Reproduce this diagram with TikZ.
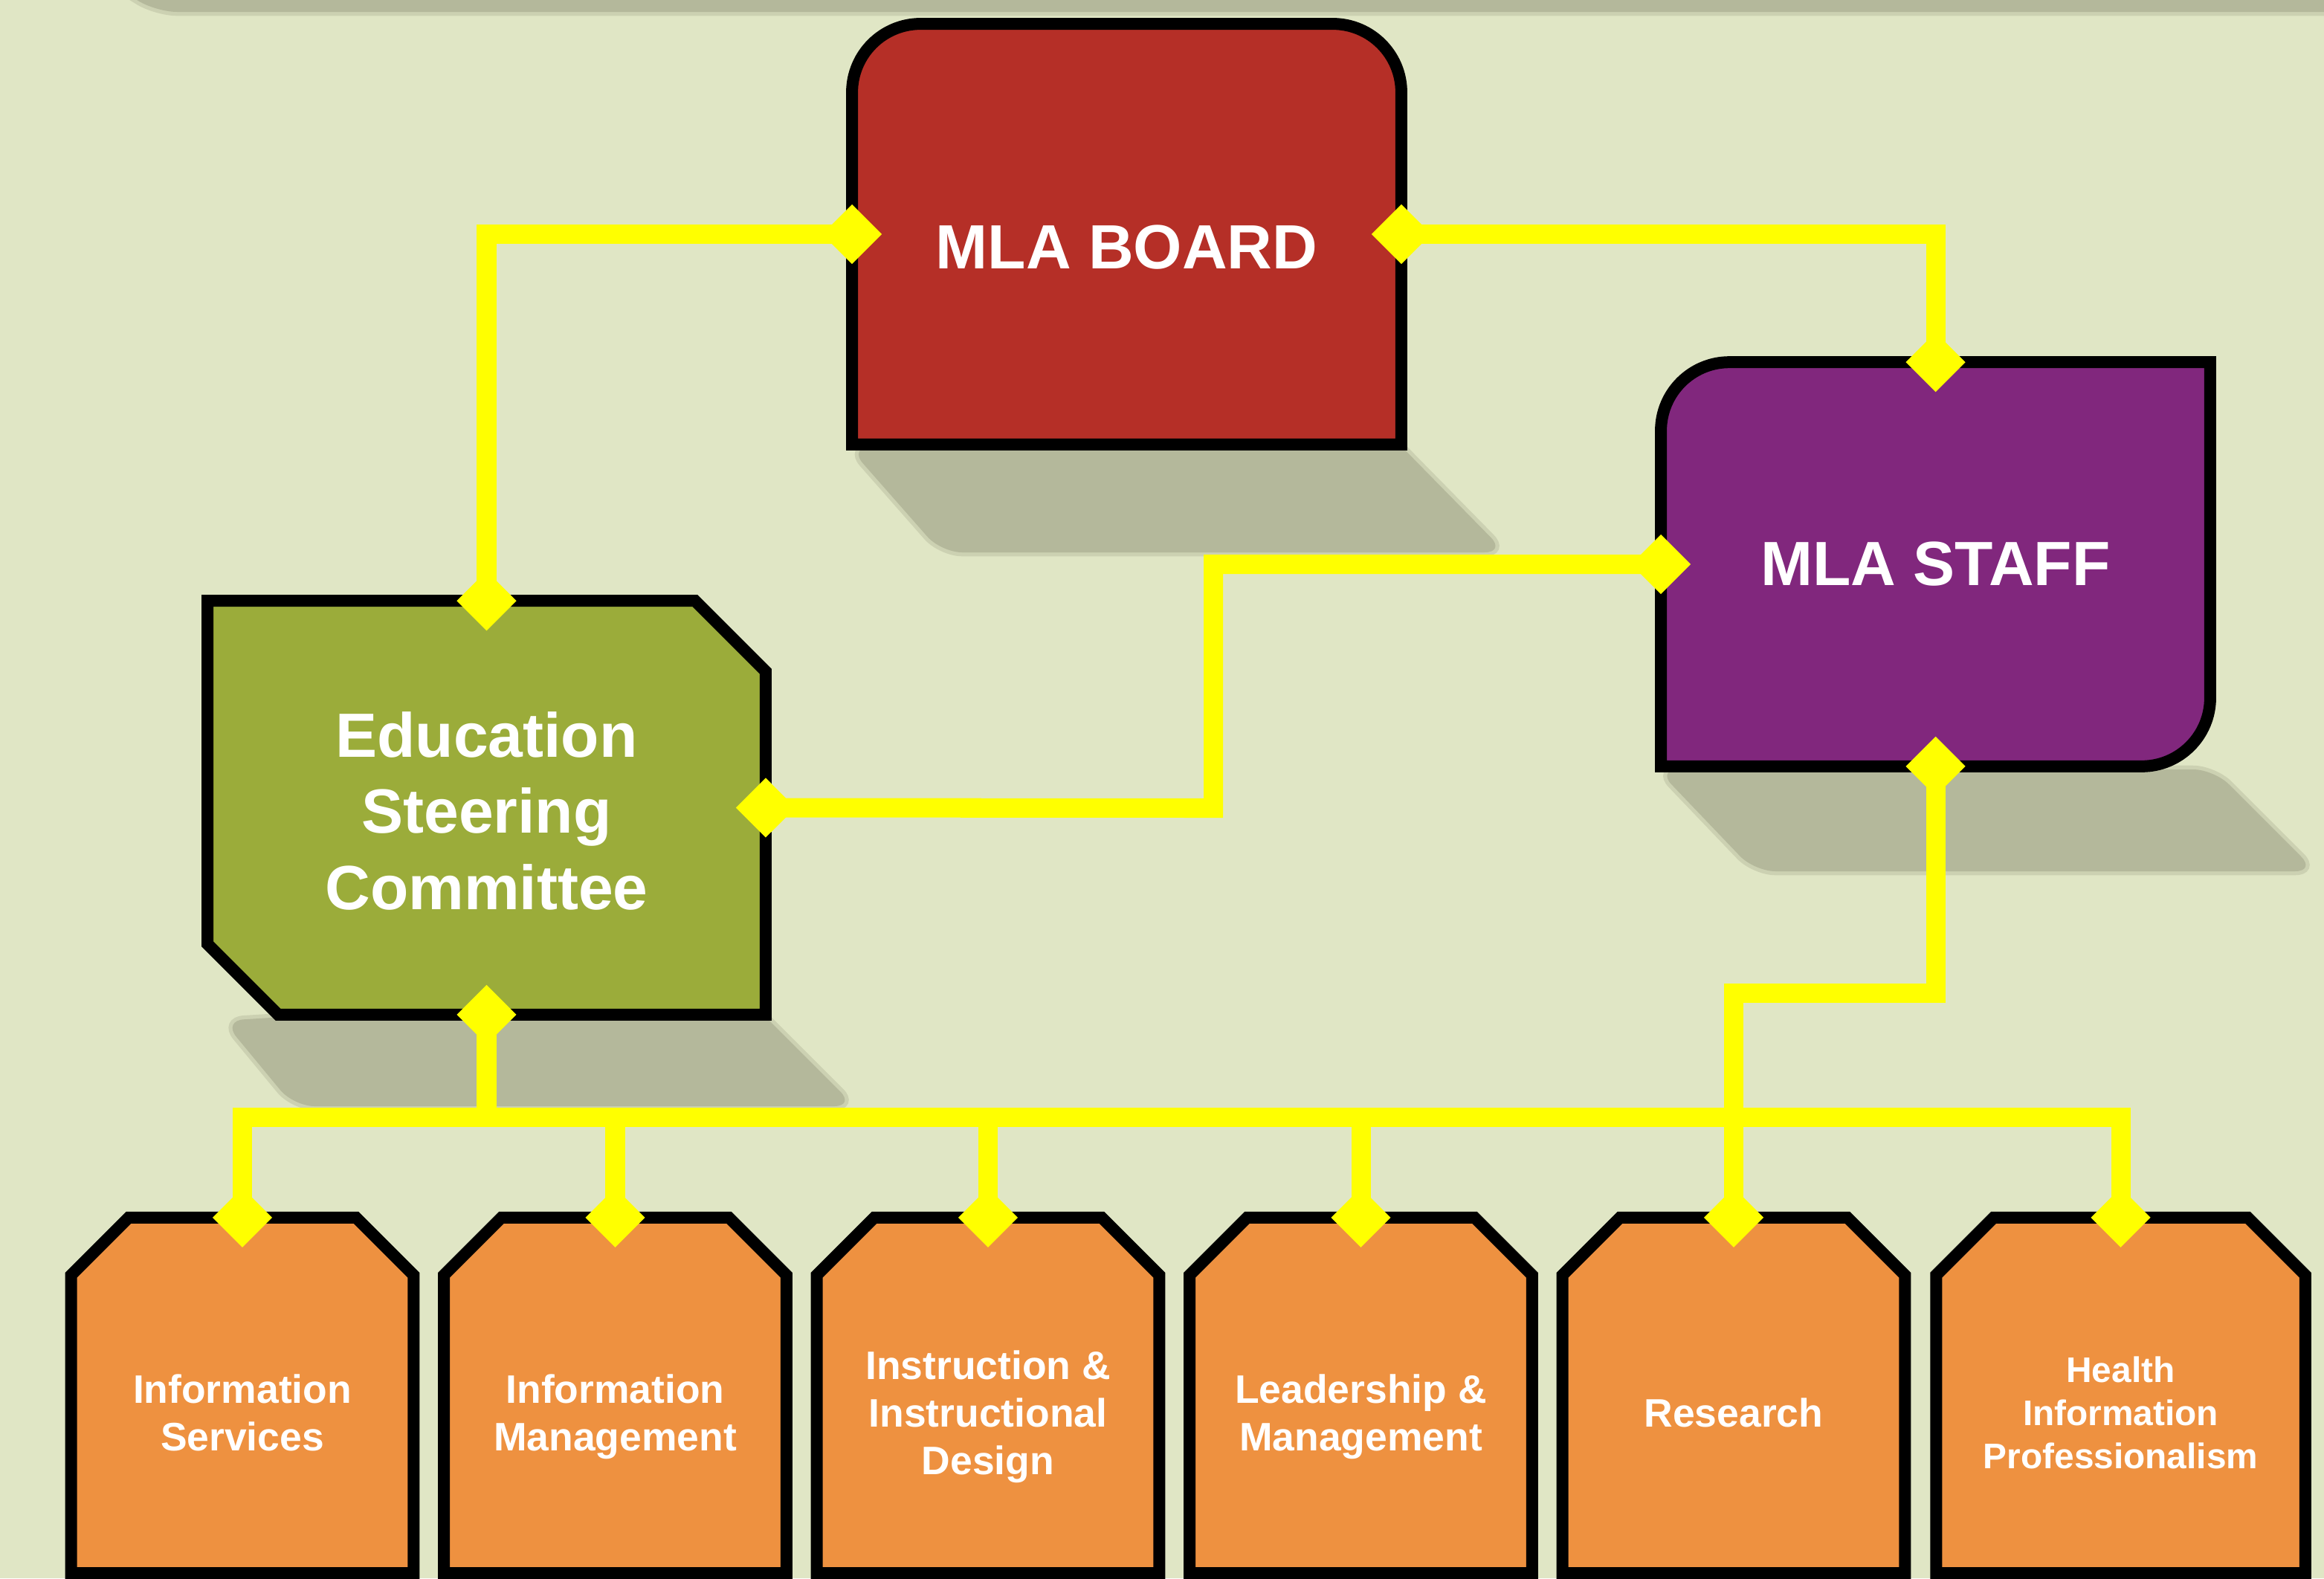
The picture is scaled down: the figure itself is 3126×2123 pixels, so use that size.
\documentclass[tikz,border=0pt]{standalone}
\usepackage{fontspec}
\setmainfont{Liberation Sans}
\usetikzlibrary{arrows.meta,backgrounds}

\definecolor{paper}{HTML}{E0E6C5}
\definecolor{shadowgray}{HTML}{B4B89B}
\definecolor{boardred}{HTML}{B52F27}
\definecolor{staffpurple}{HTML}{81277D}
\definecolor{commgreen}{HTML}{9BAC3A}
\definecolor{sectorange}{HTML}{EE9140}
\definecolor{linkyellow}{HTML}{FFFF00}

\tikzset{
  dia/.tip={Diamond[length=22.8pt,width=22.8pt,line width=0pt]},
  box/.style={inner sep=0pt, text=white, align=center},
  bigbox/.style={box, font=\fontsize{23.9}{29.2}\selectfont\bfseries},
  section/.style={box, minimum width=130.6pt, minimum height=148.7pt, text depth=0pt,
    font=\fontsize{15.2}{18.1}\selectfont\bfseries},
  outline/.style={draw=black, line width=4.55pt, line join=miter},
  castshadow/.style={fill=shadowgray, draw=shadowgray, draw opacity=.45,
    line width=3pt, rounded corners=8pt},
  link/.style={draw=linkyellow, line width=7.4pt, line join=miter},
  bothends/.style={link, dia-dia, shorten <=-11.4pt, shorten >=-11.4pt},
  oneend/.style={link, -dia, shorten >=-11.4pt}
}

\begin{document}
\begin{tikzpicture}[x=0.01cm, y=-0.01cm]
\useasboundingbox (0,0) rectangle (3126,2123);

\node[bigbox, minimum width=209.7pt, minimum height=160.5pt, text height=26.2pt, text depth=0pt] at (1515.5,315) (board) {MLA BOARD};
\node[bigbox, minimum width=209.7pt, minimum height=154.2pt] at (2603.5,759) (staff) {MLA STAFF};
\node[bigbox, minimum width=213.1pt, minimum height=157.9pt, text height=78pt, text depth=0pt] at (654.5,1086.5) (esc) {Education\\Steering\\Committee};

%sections run off the bottom of the page
\node[section] at (326,1900) (isv) {Information\\Services};
\node[section] at (827.5,1900) (ima) {Information\\Management};
\node[section] at (1329,1900) (iid) {Instruction \&\\Instructional\\Design};
\node[section] at (1830.5,1900) (lam) {Leadership \&\\Management};
\node[section] at (2332,1900) (res) {Research};
\node[section, minimum width=140.8pt, font=\fontsize{13.6}{16.5}\selectfont\bfseries] at (2852.5,1900) (hip) {Health\\Information\\Professionalism};

\begin{scope}[on background layer]
\fill[paper] (0,0) rectangle (3126,2123);
%drop shadows
\path[castshadow] (120,-40) -- (3200,-40) -- (3200,16) -- (210,16) -- cycle;
\path[castshadow] (1142,602) -- (1266,743) -- (2025,743) -- (1860,575) -- cycle;
\path[castshadow] (2229,1035) -- (2360,1172) -- (3115,1172) -- (2978,1035) -- cycle;
\path[castshadow] (300,1373) -- (395,1488) -- (1150,1488) -- (992,1330) -- cycle;
%board, round on top
\filldraw[outline, fill=boardred] (board.south west) -- ([yshift=-26.2pt]board.north west)
  arc[start angle=180, end angle=90, radius=26.2pt] -- ([xshift=-26.2pt]board.north east)
  arc[start angle=90, end angle=0, radius=26.2pt] -- (board.south east) -- cycle;
%staff, round top left and bottom right
\filldraw[outline, fill=staffpurple] (staff.north east) -- ([yshift=26.2pt]staff.south east)
  arc[start angle=0, end angle=-90, radius=26.2pt] -- (staff.south west) -- ([yshift=-26.2pt]staff.north west)
  arc[start angle=180, end angle=90, radius=26.2pt] -- cycle;
%committee, cut top right and bottom left
\filldraw[outline, fill=commgreen] (esc.north west) -- ([xshift=-27pt]esc.north east) -- ([yshift=-27pt]esc.north east)
  -- (esc.south east) -- ([xshift=27pt]esc.south west) -- ([yshift=27pt]esc.south west) -- cycle;
%sections, cut on top
\foreach \n in {isv,ima,iid,lam,res,hip}
  \filldraw[outline, fill=sectorange] ([yshift=13.1pt]\n.south west) -- ([yshift=-22pt]\n.north west)
    -- ([xshift=22pt]\n.north west) -- ([xshift=-22pt]\n.north east) -- ([yshift=-22pt]\n.north east)
    -- ([yshift=13.1pt]\n.south east) -- cycle;
\end{scope}

%board to committee and staff
\draw[bothends] (board.west) -| (esc.north);
\draw[bothends] (board.east) -| (staff.north);
%staff to committee
\coordinate (elbow) at (1632,1087);
\draw[bothends] (staff.west) -| (elbow) -- (esc.east);
%committee down to the sections
\coordinate (bus) at (654.5,1503);
\draw[link, dia-, shorten <=-11.4pt] (esc.south) -- (bus);
\draw[oneend] (bus) -| (isv.north);
\draw[oneend] (bus) -| (hip.north);
\draw[oneend] (ima.north |- bus) -- (ima.north);
\draw[oneend] (iid.north |- bus) -- (iid.north);
\draw[oneend] (lam.north |- bus) -- (lam.north);
%staff down to research
\coordinate (jog) at (2332,1336);
\draw[bothends] (staff.south) |- (jog) -- (res.north);

\end{tikzpicture}
\end{document}
